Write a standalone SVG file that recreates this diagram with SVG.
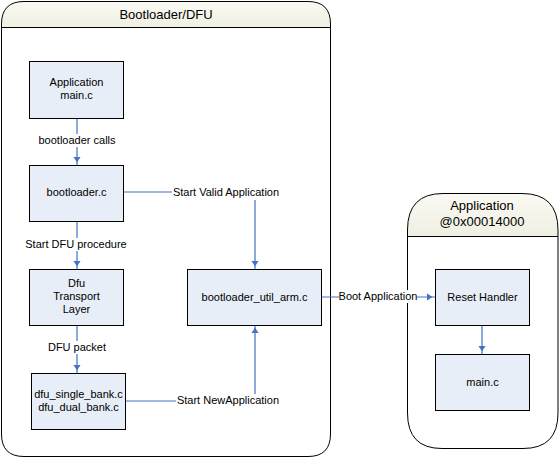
<svg xmlns="http://www.w3.org/2000/svg" width="559" height="459" viewBox="0 0 559 459">
<style>
text{font-family:"Liberation Sans",Arial,sans-serif;font-size:11px;fill:#000;text-anchor:middle}
.title{font-size:13px}
.box{fill:#E8EEF7;stroke:#000;stroke-width:1}
.cont{fill:#fff;stroke:#000;stroke-width:1}
.hdr{fill:url(#hg);stroke:#000;stroke-width:1}
.c{fill:none;stroke:#4472C4;stroke-width:1.2}
.lbl{fill:#fff}
</style>
<defs>
<linearGradient id="hg" x1="0" y1="0" x2="0" y2="1">
<stop offset="0" stop-color="#FAFAF4"/>
<stop offset="1" stop-color="#EFEFE2"/>
</linearGradient>
<marker id="ah" markerUnits="userSpaceOnUse" viewBox="0 0 9 8" refX="8" refY="4" markerWidth="9" markerHeight="8" orient="auto">
<path d="M0,0.5 L5.5,4 L0,7.5 z" fill="#4472C4"/>
</marker>
</defs>
<g id="bootloader-dfu">
<path class="cont" d="M1.5,27.5 L330.5,27.5 L330.5,434 Q330.5,456.5 308,456.5 L24,456.5 Q1.5,456.5 1.5,434 Z"/>
<path class="hdr" d="M1.5,27.5 L1.5,24 Q1.5,1.5 24,1.5 L308,1.5 Q330.5,1.5 330.5,24 L330.5,27.5 Z"/>
<text class="title" x="166" y="19">Bootloader/DFU</text>
</g>
<g id="application-container">
<path class="cont" d="M407.5,236.5 L558,236.5 L558,413 Q558,448.5 523,448.5 L442,448.5 Q407.5,448.5 407.5,413 Z"/>
<path class="hdr" d="M407.5,236.5 L407.5,230 Q407.5,193.5 443,193.5 L522,193.5 Q558,193.5 558,230 L558,236.5 Z"/>
<text class="title" x="482" y="210">Application</text>
<text class="title" x="482" y="226">@0x00014000</text>
</g>
<g id="connectors">
<line class="c" x1="77" y1="118" x2="77" y2="165" marker-end="url(#ah)"/>
<line class="c" x1="77" y1="221" x2="77" y2="269" marker-end="url(#ah)"/>
<line class="c" x1="77" y1="325" x2="77" y2="373" marker-end="url(#ah)"/>
<polyline class="c" points="123,192 255,192 255,269" marker-end="url(#ah)"/>
<polyline class="c" points="126,401 255,401 255,325" marker-end="url(#ah)"/>
<line class="c" x1="322" y1="297" x2="435" y2="297" marker-end="url(#ah)"/>
<line class="c" x1="482" y1="325" x2="482" y2="354" marker-end="url(#ah)"/>
<rect class="lbl" x="38" y="134" width="78" height="13"/>
<text x="77" y="144">bootloader calls</text>
<rect class="lbl" x="172" y="185" width="108" height="15"/>
<text x="226" y="196">Start Valid Application</text>
<rect class="lbl" x="26" y="238" width="100" height="13"/>
<text x="76" y="248">Start DFU procedure</text>
<rect class="lbl" x="47" y="341" width="60" height="13"/>
<text x="77" y="351">DFU packet</text>
<rect class="lbl" x="176" y="394" width="104" height="14"/>
<text x="228" y="404">Start NewApplication</text>
<rect class="lbl" x="339" y="290" width="78" height="13"/>
<text x="378" y="300">Boot Application</text>
</g>
<g id="app-main">
<rect class="box" x="29.5" y="61.5" width="94" height="57"/>
<text x="76.5" y="86">Application</text>
<text x="76.5" y="99">main.c</text>
</g>
<g id="bootloader-c">
<rect class="box" x="29.5" y="165.5" width="94" height="56"/>
<text x="76.5" y="196">bootloader.c</text>
</g>
<g id="dfu-transport">
<rect class="box" x="29.5" y="269.5" width="94" height="56"/>
<text x="76.5" y="287">Dfu</text>
<text x="76.5" y="300">Transport</text>
<text x="76.5" y="313">Layer</text>
</g>
<g id="dfu-bank">
<rect class="box" x="31.5" y="373.5" width="94" height="56"/>
<text x="78.5" y="398">dfu_single_bank.c</text>
<text x="78.5" y="411">dfu_dual_bank.c</text>
</g>
<g id="bootloader-util">
<rect class="box" x="187.5" y="269.5" width="134" height="56"/>
<text x="254.5" y="301">bootloader_util_arm.c</text>
</g>
<g id="reset-handler">
<rect class="box" x="435.5" y="269.5" width="94" height="56"/>
<text x="482.5" y="301">Reset Handler</text>
</g>
<g id="main-c">
<rect class="box" x="435.5" y="354.5" width="94" height="56"/>
<text x="482.5" y="386">main.c</text>
</g>
</svg>
